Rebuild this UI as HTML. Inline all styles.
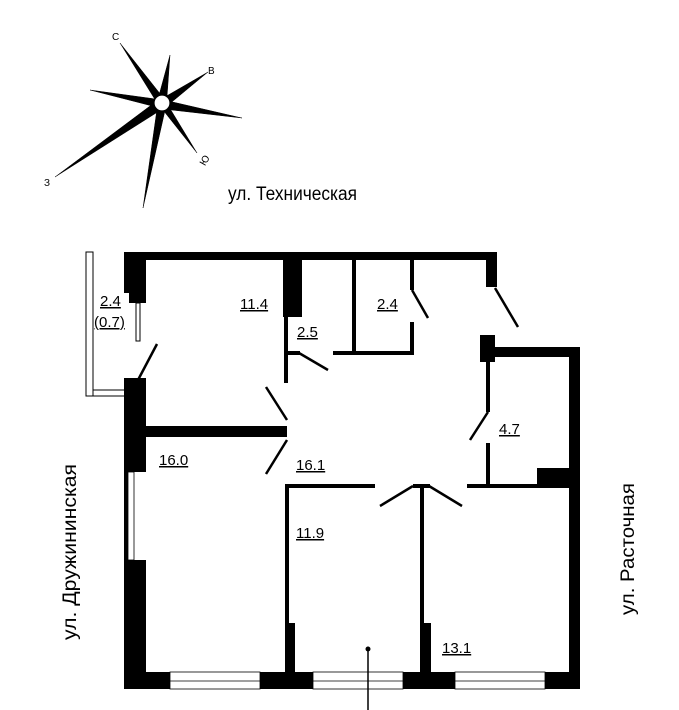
<!DOCTYPE html>
<html><head><meta charset="utf-8"><style>
html,body{margin:0;padding:0;background:#fff}
svg{display:block}
text{font-family:"Liberation Sans","DejaVu Sans",sans-serif;fill:#000}
</style></head><body>
<svg width="679" height="710" viewBox="0 0 679 710" xmlns="http://www.w3.org/2000/svg">
<!-- compass -->
<g fill="#000" stroke="#000" stroke-width="0.5">
<polygon points="120,43 165,100 159,106"/>
<polygon points="170,55 167,97 158,99"/>
<polygon points="208,72 163,98 167,106"/>
<polygon points="242,118 164,100 163,109"/>
<polygon points="197,153 159,105 166,102"/>
<polygon points="143,208 158,102 166,106"/>
<polygon points="55,177 158,100 164,108"/>
<polygon points="90,90 163,100 160,108"/>
</g>
<circle cx="162" cy="103" r="8" fill="#fff" stroke="#000" stroke-width="1.2"/>
<text x="112" y="40" font-size="10">С</text>
<text x="208" y="74" font-size="10">В</text>
<text x="199" y="164" font-size="10" transform="rotate(-60 204 160)">Ю</text>
<text x="44" y="186" font-size="10">З</text>
<text x="228" y="200" font-size="19" textLength="129" lengthAdjust="spacingAndGlyphs">ул. Техническая</text>
<text transform="translate(76 640) rotate(-90)" font-size="19" textLength="176" lengthAdjust="spacingAndGlyphs">ул. Дружининская</text>
<text transform="translate(634 615) rotate(-90)" font-size="19" textLength="132" lengthAdjust="spacingAndGlyphs">ул. Расточная</text>

<!-- balcony -->
<g fill="none" stroke="#000" stroke-width="1">
<rect x="86" y="252" width="7" height="144"/>
<line x1="93" y1="390" x2="128" y2="390"/>
<line x1="86" y1="396" x2="128" y2="396"/>
<rect x="136" y="303" width="4" height="38"/>
</g>
<g fill="#000">
<rect x="124" y="252" width="373" height="8"/>
<rect x="124" y="252" width="22" height="41"/>
<rect x="129" y="290" width="17" height="13"/>
<rect x="124" y="378" width="22" height="94"/>
<rect x="124" y="560" width="22" height="129"/>
<rect x="124" y="472" width="4" height="88"/>
<rect x="124" y="672" width="456" height="17"/>
<rect x="569" y="347" width="11" height="342"/>
<rect x="490" y="347" width="90" height="10"/>
<rect x="480" y="335" width="15" height="27"/>
<rect x="486" y="252" width="11" height="35"/>
<rect x="537" y="468" width="32" height="19"/>
<rect x="146" y="426" width="141" height="11"/>
<rect x="283" y="252" width="19" height="65"/>
<rect x="284" y="317" width="4" height="66"/>
<rect x="284" y="351" width="16" height="4"/>
<rect x="352" y="260" width="4" height="95"/>
<rect x="333" y="351" width="81" height="4"/>
<rect x="410" y="260" width="4" height="30"/>
<rect x="410" y="322" width="4" height="33"/>
<rect x="486" y="357" width="4" height="55"/>
<rect x="486" y="443" width="4" height="44"/>
<rect x="467" y="484" width="102" height="4"/>
<rect x="285" y="484" width="90" height="4"/>
<rect x="285" y="486" width="4" height="190"/>
<rect x="285" y="623" width="10" height="50"/>
<rect x="413" y="484" width="17" height="4"/>
<rect x="420" y="486" width="4" height="190"/>
<rect x="420" y="623" width="11" height="50"/>
</g>
<g fill="#fff" stroke="#000" stroke-width="0.8">
<rect x="170" y="672" width="90" height="17"/>
<rect x="313" y="672" width="90" height="17"/>
<rect x="455" y="672" width="90" height="17"/>
<line x1="170" y1="681" x2="260" y2="681"/>
<line x1="313" y1="681" x2="403" y2="681"/>
<line x1="455" y1="681" x2="545" y2="681"/>
<rect x="128" y="472" width="6" height="88"/>
</g>
<g stroke="#000" stroke-width="2.5" fill="none">
<line x1="138" y1="380" x2="157" y2="344"/>
<line x1="287" y1="420" x2="266" y2="387"/>
<line x1="287" y1="440" x2="266" y2="474"/>
<line x1="299" y1="353" x2="328" y2="370"/>
<line x1="412" y1="290" x2="428" y2="318"/>
<line x1="495" y1="288" x2="518" y2="327"/>
<line x1="488" y1="412" x2="470" y2="440"/>
<line x1="413" y1="486" x2="380" y2="506"/>
<line x1="429" y1="486" x2="462" y2="506"/>
<line x1="368" y1="649" x2="368" y2="710" stroke-width="1.5"/>
</g>
<circle cx="368" cy="649" r="2.5" fill="#000"/>
<g font-size="15" text-decoration="underline">
<text x="100" y="306">2.4</text>
<text x="94" y="327">(0.7)</text>
<text x="240" y="309">11.4</text>
<text x="297" y="337">2.5</text>
<text x="377" y="309">2.4</text>
<text x="499" y="434">4.7</text>
<text x="159" y="465">16.0</text>
<text x="296" y="470">16.1</text>
<text x="296" y="538">11.9</text>
<text x="442" y="653">13.1</text>
</g>
</svg>
</body></html>
